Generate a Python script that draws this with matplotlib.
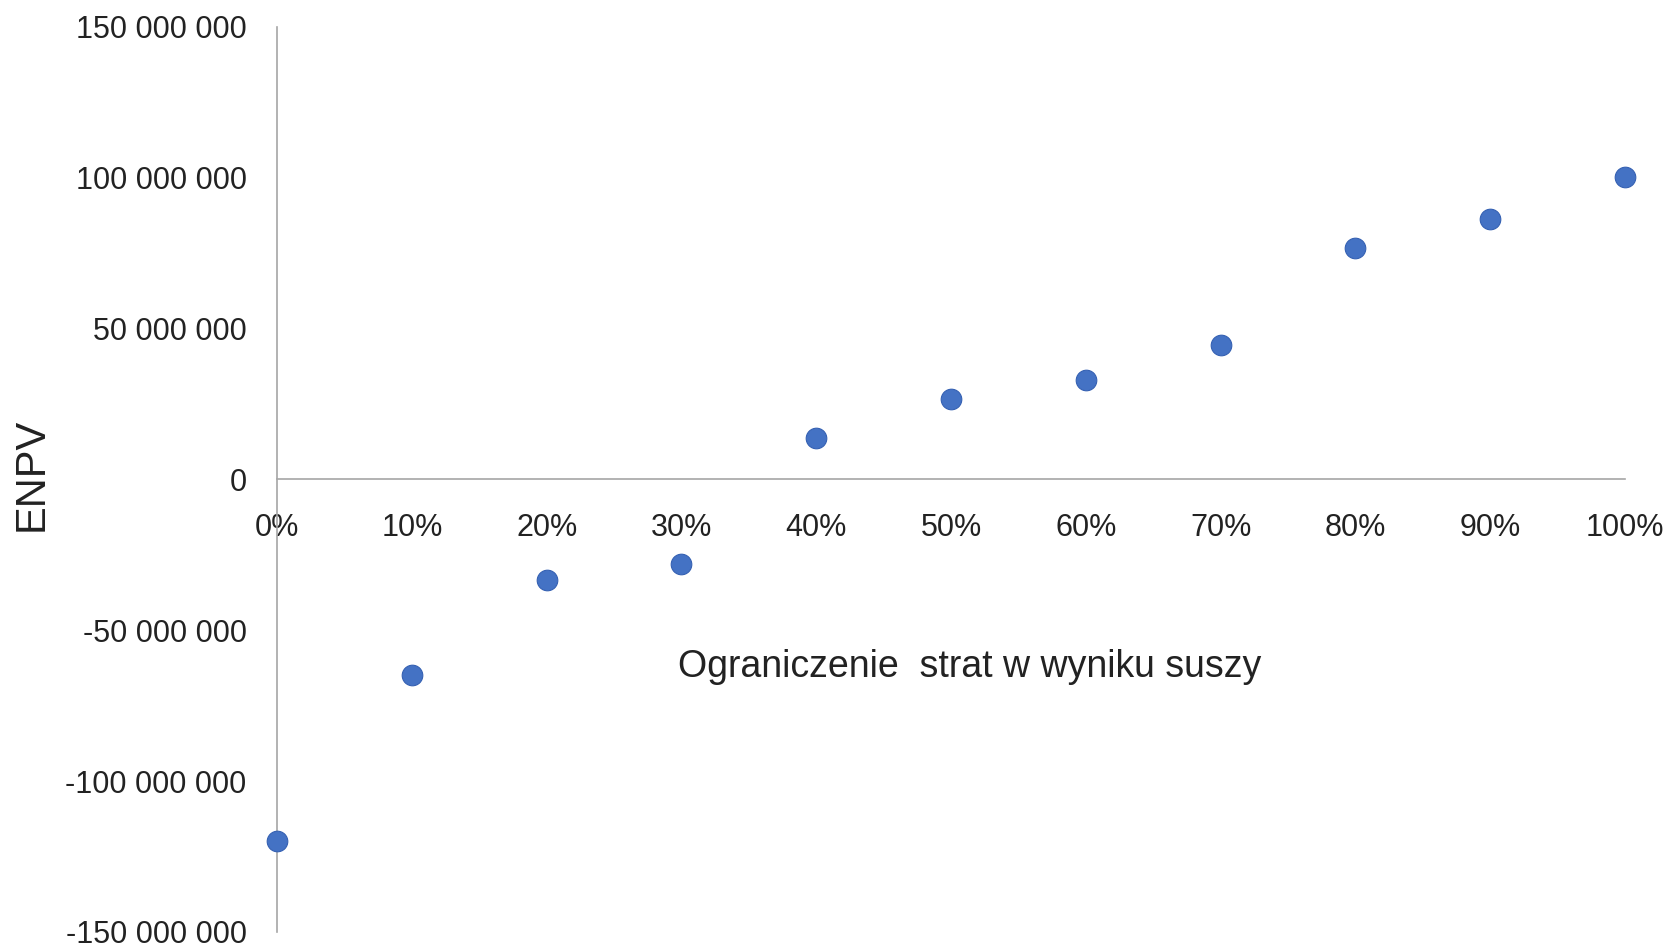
import matplotlib.pyplot as plt
from matplotlib.ticker import FuncFormatter, MultipleLocator

plt.rcParams['font.family'] = ['Liberation Sans', 'DejaVu Sans']

# Dane: ograniczenie strat vs ENPV
ograniczenie = [0.0, 0.1, 0.2, 0.3, 0.4, 0.5, 0.6, 0.7, 0.8, 0.9, 1.0]
enpv = [-120e6, -65e6, -33.5e6, -28e6, 13.6e6, 26.6e6, 32.9e6, 44.5e6, 76.6e6, 86.2e6, 100e6]

fig = plt.figure(figsize=(16.65, 9.5), dpi=100)
ax = fig.add_axes([0.1664, 0.019, 0.8096, 0.953])

ax.scatter(ograniczenie, enpv, s=220, color='#4472C4', edgecolors='#3561b3',
           linewidths=0.8, zorder=3, clip_on=False)

ax.set_xlim(0, 1)
ax.set_ylim(-150e6, 150e6)
ax.xaxis.set_major_locator(MultipleLocator(0.1))
ax.yaxis.set_major_locator(MultipleLocator(50e6))
ax.xaxis.set_major_formatter(FuncFormatter(lambda v, p: f"{v*100:.0f}%"))
ax.yaxis.set_major_formatter(FuncFormatter(lambda v, p: f"{v:,.0f}".replace(",", " ")))

# osie przecinają się w zerze
ax.spines['bottom'].set_position(('data', 0))
for s in ['top', 'right']:
    ax.spines[s].set_visible(False)
for s in ['left', 'bottom']:
    ax.spines[s].set_color('#a6a6a6')
    ax.spines[s].set_linewidth(1.2)

ax.tick_params(axis='both', length=0, labelsize=22, colors='#222222')
ax.tick_params(axis='y', pad=22)
ax.tick_params(axis='x', pad=24)

ax.set_xlabel("Ograniczenie  strat w wyniku suszy", fontsize=27, color='#222222')
ax.xaxis.set_label_coords(0.514, 0.293)
ax.xaxis.label.set_va('center')
ax.set_ylabel("ENPV", fontsize=30, color='#222222')
ax.yaxis.set_label_coords(-0.167, 0.505)

fig.savefig("out.png", dpi=100)
